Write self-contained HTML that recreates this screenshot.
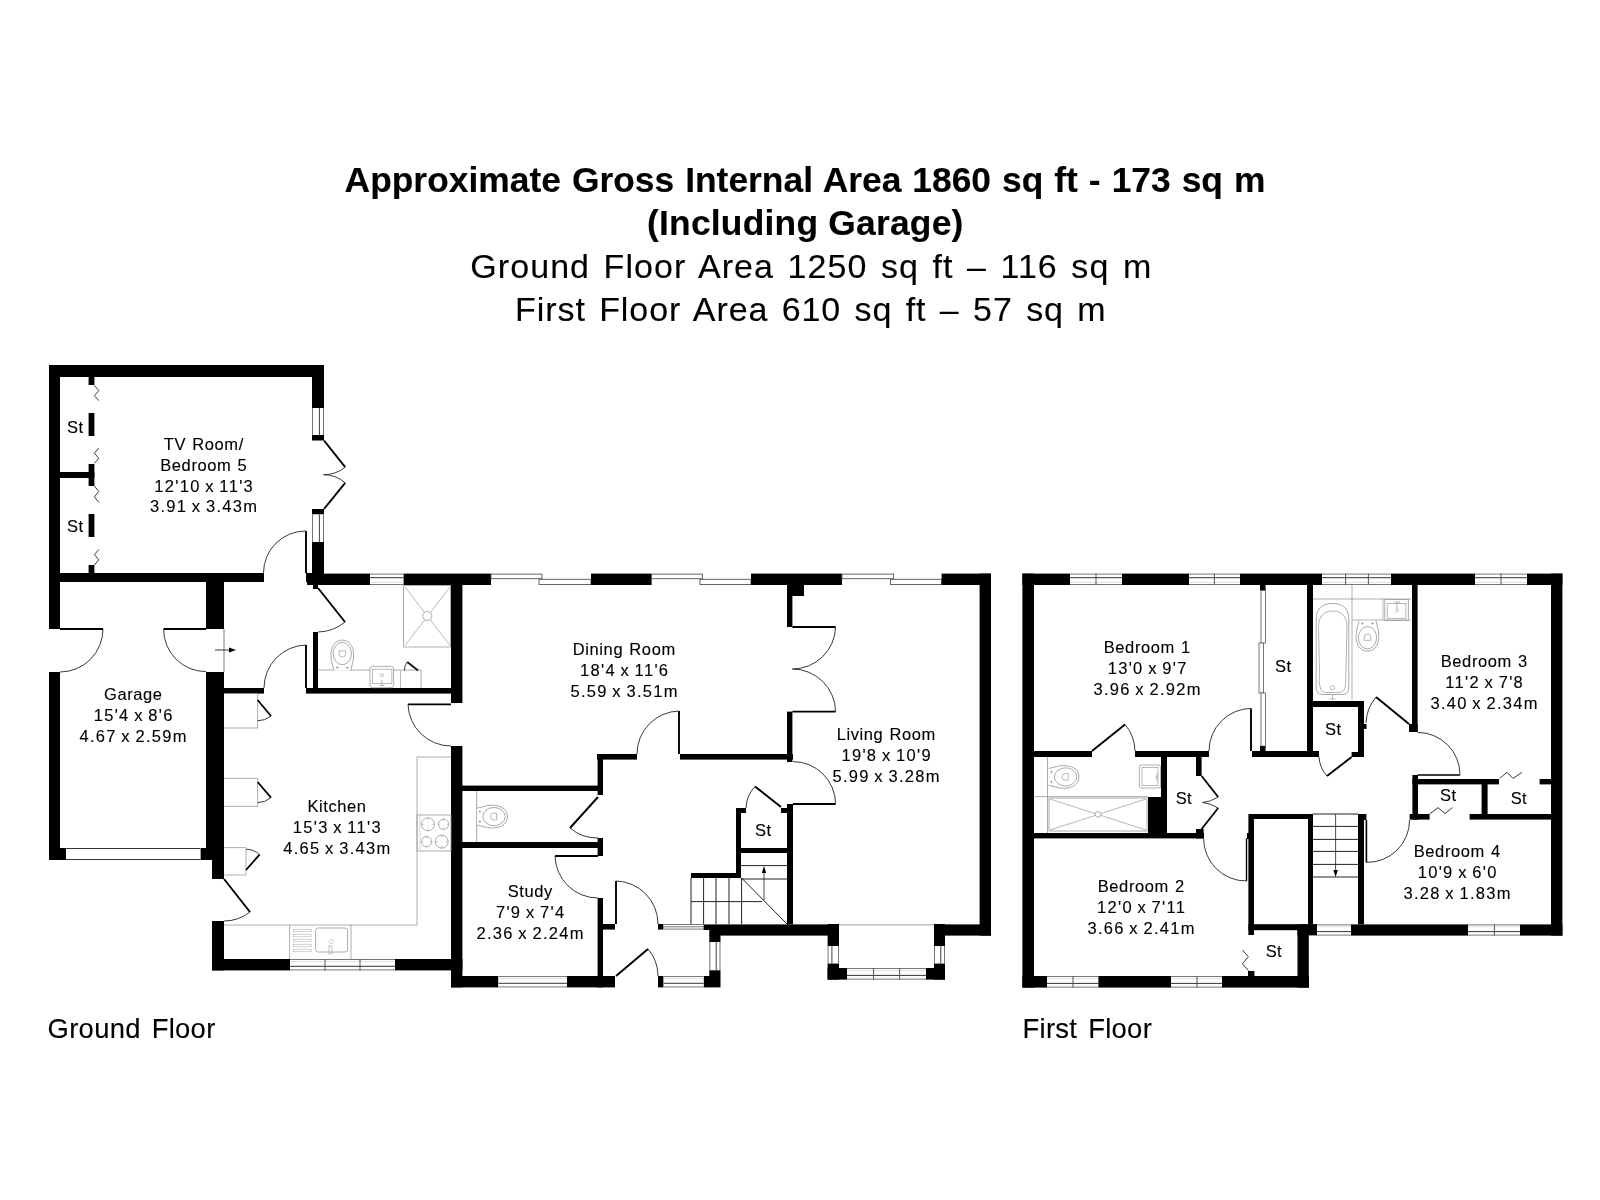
<!DOCTYPE html>
<html><head><meta charset="utf-8"><style>
html,body{margin:0;padding:0;background:#fff;}
svg{display:block;filter:grayscale(1);}
</style></head><body>
<svg width="1600" height="1200" viewBox="0 0 1600 1200">
<rect width="1600" height="1200" fill="#fff"/>
<rect x="49.0" y="365.0" width="275.0" height="12.0" fill="#000"/>
<rect x="49.0" y="365.0" width="11.0" height="264.0" fill="#000"/>
<rect x="49.0" y="672.0" width="11.0" height="188.0" fill="#000"/>
<rect x="312.0" y="365.0" width="12.0" height="43.0" fill="#000"/>
<rect x="312.0" y="408.0" width="12.0" height="27.0" fill="#fff"/>
<line x1="312.5" y1="408.0" x2="312.5" y2="435.0" stroke="#777" stroke-width="1"/>
<line x1="323.5" y1="408.0" x2="323.5" y2="435.0" stroke="#777" stroke-width="1"/>
<line x1="319.4" y1="408.0" x2="319.4" y2="435.0" stroke="#444" stroke-width="1"/>
<rect x="312.0" y="435.0" width="12.0" height="5.5" fill="#000"/>
<rect x="312.0" y="509.0" width="12.0" height="5.5" fill="#000"/>
<rect x="312.0" y="514.5" width="12.0" height="27.5" fill="#fff"/>
<line x1="312.5" y1="514.5" x2="312.5" y2="542.0" stroke="#777" stroke-width="1"/>
<line x1="323.5" y1="514.5" x2="323.5" y2="542.0" stroke="#777" stroke-width="1"/>
<line x1="319.4" y1="514.5" x2="319.4" y2="542.0" stroke="#444" stroke-width="1"/>
<rect x="312.0" y="542.0" width="12.0" height="40.0" fill="#000"/>
<rect x="306.0" y="573.0" width="18.0" height="9.0" fill="#000"/>
<rect x="313.0" y="573.0" width="5.0" height="16.0" fill="#000"/>
<rect x="60.0" y="573.0" width="204.0" height="9.0" fill="#000"/>
<line x1="324.0" y1="440.5" x2="345.2" y2="467.2" stroke="#000" stroke-width="1.9"/>
<path d="M345.2,467.2 A34.1,34.1 0 0 1 323.5,474.7" stroke="#222" stroke-width="0.9" fill="none"/>
<line x1="324.0" y1="509.0" x2="345.2" y2="482.8" stroke="#000" stroke-width="1.9"/>
<path d="M345.2,482.8 A33.7,33.7 0 0 0 323.5,474.7" stroke="#222" stroke-width="0.9" fill="none"/>
<line x1="306.0" y1="573.0" x2="306.0" y2="531.0" stroke="#000" stroke-width="1.9"/>
<path d="M306.0,531.0 A42.0,42.0 0 0 0 263.5,573.0" stroke="#222" stroke-width="0.9" fill="none"/>
<rect x="60.0" y="472.0" width="34.4" height="6.0" fill="#000"/>
<rect x="88.6" y="377.0" width="5.8" height="8.0" fill="#000"/>
<rect x="88.6" y="413.0" width="5.8" height="23.0" fill="#000"/>
<rect x="88.6" y="464.0" width="5.8" height="22.0" fill="#000"/>
<rect x="88.6" y="514.0" width="5.8" height="23.0" fill="#000"/>
<rect x="88.6" y="565.0" width="5.8" height="8.0" fill="#000"/>
<polyline points="94.4,385.5 98.8,390.6 94.4,395.6 98.8,400.7" stroke="#222" stroke-width="0.9" fill="none"/>
<polyline points="94.4,463.3 98.8,458.3 94.4,453.2 98.8,448.2" stroke="#222" stroke-width="0.9" fill="none"/>
<polyline points="94.4,486.0 98.8,491.5 94.4,496.9 98.8,502.4" stroke="#222" stroke-width="0.9" fill="none"/>
<polyline points="94.4,565.0 98.8,559.8 94.4,554.7 98.8,549.5" stroke="#222" stroke-width="0.9" fill="none"/>
<rect x="206.0" y="582.0" width="18.0" height="47.0" fill="#000"/>
<rect x="206.0" y="672.0" width="18.0" height="176.0" fill="#000"/>
<rect x="212.0" y="848.0" width="12.0" height="31.0" fill="#000"/>
<rect x="212.0" y="921.0" width="12.0" height="49.4" fill="#000"/>
<rect x="49.0" y="848.0" width="17.0" height="12.0" fill="#000"/>
<rect x="200.4" y="848.0" width="11.6" height="12.0" fill="#000"/>
<rect x="66.0" y="848.0" width="134.4" height="12.0" fill="#fff"/>
<line x1="66.0" y1="848.5" x2="200.4" y2="848.5" stroke="#333" stroke-width="1"/>
<line x1="66.0" y1="859.5" x2="200.4" y2="859.5" stroke="#333" stroke-width="1"/>
<line x1="60.0" y1="629.0" x2="103.0" y2="629.0" stroke="#000" stroke-width="1.9"/>
<path d="M103.0,629.0 A43.0,43.0 0 0 1 60.0,672.0" stroke="#222" stroke-width="0.9" fill="none"/>
<line x1="206.0" y1="629.0" x2="163.6" y2="629.0" stroke="#000" stroke-width="1.9"/>
<path d="M163.6,629.0 A42.4,42.4 0 0 0 206.0,671.6" stroke="#222" stroke-width="0.9" fill="none"/>
<line x1="224.0" y1="629.0" x2="224.0" y2="672.0" stroke="#555" stroke-width="0.8"/>
<line x1="215.0" y1="650.0" x2="231.0" y2="650.0" stroke="#222" stroke-width="0.9"/>
<path d="M236,650 L229,647.6 L229,652.4 Z" fill="#000"/>
<rect x="307.0" y="573.6" width="63.0" height="11.4" fill="#000"/>
<rect x="370.0" y="573.6" width="33.6" height="11.4" fill="#fff"/>
<line x1="370.0" y1="574.1" x2="403.6" y2="574.1" stroke="#777" stroke-width="1"/>
<line x1="370.0" y1="584.5" x2="403.6" y2="584.5" stroke="#777" stroke-width="1"/>
<line x1="370.0" y1="577.7" x2="403.6" y2="577.7" stroke="#333" stroke-width="1"/>
<line x1="370.0" y1="582.5" x2="403.6" y2="582.5" stroke="#ccc" stroke-width="0.6"/>
<rect x="403.6" y="573.6" width="87.4" height="11.4" fill="#000"/>
<rect x="491.0" y="574.1" width="51.0" height="4.6" fill="#fff" stroke="#555" stroke-width="0.9"/>
<rect x="539.0" y="579.3" width="52.0" height="5.2" fill="#fff" stroke="#555" stroke-width="0.9"/>
<rect x="591.0" y="573.6" width="60.6" height="11.4" fill="#000"/>
<rect x="651.6" y="574.1" width="50.8" height="4.6" fill="#fff" stroke="#555" stroke-width="0.9"/>
<rect x="700.0" y="579.3" width="51.0" height="5.2" fill="#fff" stroke="#555" stroke-width="0.9"/>
<rect x="751.0" y="573.6" width="91.0" height="11.4" fill="#000"/>
<rect x="842.0" y="574.1" width="51.6" height="4.6" fill="#fff" stroke="#555" stroke-width="0.9"/>
<rect x="890.4" y="579.3" width="51.2" height="5.2" fill="#fff" stroke="#555" stroke-width="0.9"/>
<rect x="941.6" y="573.6" width="49.4" height="11.4" fill="#000"/>
<rect x="979.6" y="573.6" width="11.4" height="362.0" fill="#000"/>
<rect x="451.0" y="585.0" width="11.4" height="118.0" fill="#000"/>
<rect x="224.0" y="688.0" width="40.0" height="5.6" fill="#000"/>
<rect x="306.0" y="688.0" width="145.0" height="5.6" fill="#000"/>
<rect x="313.0" y="632.0" width="5.0" height="56.0" fill="#000"/>
<line x1="318.0" y1="588.0" x2="345.0" y2="622.0" stroke="#000" stroke-width="1.9"/>
<path d="M345.0,622.0 A43.4,43.4 0 0 1 318.0,632.0" stroke="#222" stroke-width="0.9" fill="none"/>
<line x1="306.0" y1="688.0" x2="306.0" y2="645.0" stroke="#000" stroke-width="1.9"/>
<path d="M306.0,645.0 A43.0,43.0 0 0 0 264.0,688.0" stroke="#222" stroke-width="0.9" fill="none"/>
<rect x="403.6" y="585.5" width="47" height="61.5" fill="none" stroke="#999" stroke-width="0.8"/>
<line x1="405.0" y1="587.0" x2="450.0" y2="645.5" stroke="#999" stroke-width="0.7"/>
<line x1="450.0" y1="587.0" x2="405.0" y2="645.5" stroke="#999" stroke-width="0.7"/>
<circle cx="427.3" cy="616" r="4.5" fill="#fff" stroke="#999" stroke-width="0.8"/>
<line x1="318.0" y1="670.0" x2="421.0" y2="670.0" stroke="#999" stroke-width="0.8"/>
<line x1="421.0" y1="670.0" x2="421.0" y2="688.0" stroke="#999" stroke-width="0.8"/>
<g transform="translate(342.3,653.5) rotate(0)" fill="none" stroke="#999" stroke-width="0.85"><path d="M-8.4,17 L-11,6.6 C-12.7,-5.4 -8.2,-13.4 0,-13.4 C8.2,-13.4 12.7,-5.4 11,6.6 L8.4,17" fill="#fff"/><ellipse cx="0" cy="0" rx="9.1" ry="11.2"/><path d="M-3.3,-2.6 L3.3,-2.6 L3.3,0.6 A3.3,3 0 0 1 -3.3,0.6 Z" stroke-width="0.7"/><circle cx="-5" cy="14.2" r="0.7" fill="#999"/><circle cx="5" cy="14.2" r="0.7" fill="#999"/></g>
<rect x="369.9" y="666.4" width="23.7" height="21.3" rx="2.5" fill="#fff" stroke="#999" stroke-width="0.8"/>
<rect x="372.3" y="669.2" width="19.6" height="14.4" fill="none" stroke="#999" stroke-width="0.7"/>
<rect x="380.2" y="674" width="3.4" height="2.5" rx="1" fill="none" stroke="#999" stroke-width="0.6"/>
<path d="M381.9,680 l0,5 M379.5,685.5 l4.8,0" stroke="#999" stroke-width="0.8" fill="none"/>
<line x1="418.0" y1="670.5" x2="407.3" y2="662.0" stroke="#111" stroke-width="1.8"/>
<path d="M407.3,662.0 A13.7,13.7 0 0 0 404.3,670.5" stroke="#222" stroke-width="0.9" fill="none"/>
<line x1="400.5" y1="670.5" x2="400.5" y2="688.0" stroke="#999" stroke-width="0.7"/>
<line x1="451.0" y1="704.4" x2="408.0" y2="704.4" stroke="#000" stroke-width="1.9"/>
<path d="M408.0,704.4 A43.0,43.0 0 0 0 451.0,746.0" stroke="#222" stroke-width="0.9" fill="none"/>
<rect x="451.0" y="746.0" width="11.4" height="241.4" fill="#000"/>
<rect x="212.0" y="959.0" width="78.0" height="11.4" fill="#000"/>
<rect x="290.0" y="959.0" width="105.0" height="11.4" fill="#fff"/>
<line x1="290.0" y1="959.5" x2="395.0" y2="959.5" stroke="#777" stroke-width="1"/>
<line x1="290.0" y1="969.9" x2="395.0" y2="969.9" stroke="#777" stroke-width="1"/>
<line x1="290.0" y1="966.3" x2="395.0" y2="966.3" stroke="#333" stroke-width="1"/>
<line x1="290.0" y1="961.5" x2="395.0" y2="961.5" stroke="#ccc" stroke-width="0.6"/>
<line x1="325.0" y1="959.0" x2="325.0" y2="970.4" stroke="#555" stroke-width="1"/>
<line x1="360.0" y1="959.0" x2="360.0" y2="970.4" stroke="#555" stroke-width="1"/>
<rect x="395.0" y="959.0" width="67.4" height="11.4" fill="#000"/>
<line x1="224.0" y1="879.0" x2="250.0" y2="912.0" stroke="#000" stroke-width="1.9"/>
<path d="M250.0,912.0 A42.0,42.0 0 0 1 224.0,921.0" stroke="#222" stroke-width="0.9" fill="none"/>
<line x1="224.0" y1="693.6" x2="257.6" y2="693.6" stroke="#999" stroke-width="0.8"/>
<line x1="224.0" y1="728.0" x2="257.6" y2="728.0" stroke="#999" stroke-width="0.8"/>
<line x1="257.6" y1="693.6" x2="257.6" y2="728.0" stroke="#999" stroke-width="0.8"/>
<line x1="257.6" y1="700.0" x2="271.0" y2="716.0" stroke="#000" stroke-width="1.8"/>
<path d="M271.0,716.0 A20.9,20.9 0 0 1 257.6,720.8" stroke="#222" stroke-width="0.9" fill="none"/>
<line x1="224.0" y1="778.4" x2="257.6" y2="778.4" stroke="#999" stroke-width="0.8"/>
<line x1="224.0" y1="806.4" x2="257.6" y2="806.4" stroke="#999" stroke-width="0.8"/>
<line x1="257.6" y1="778.4" x2="257.6" y2="806.4" stroke="#999" stroke-width="0.8"/>
<line x1="257.6" y1="782.0" x2="271.0" y2="797.6" stroke="#000" stroke-width="1.8"/>
<path d="M271.0,797.6 A20.6,20.6 0 0 1 257.6,802.6" stroke="#222" stroke-width="0.9" fill="none"/>
<line x1="224.0" y1="847.6" x2="246.0" y2="847.6" stroke="#999" stroke-width="0.8"/>
<line x1="224.0" y1="875.0" x2="246.0" y2="875.0" stroke="#999" stroke-width="0.8"/>
<line x1="246.0" y1="847.6" x2="246.0" y2="875.0" stroke="#999" stroke-width="0.8"/>
<line x1="246.0" y1="870.0" x2="259.6" y2="854.6" stroke="#000" stroke-width="1.8"/>
<path d="M259.6,854.6 A20.5,20.5 0 0 0 246.0,849.2" stroke="#222" stroke-width="0.9" fill="none"/>
<line x1="417.0" y1="757.0" x2="451.0" y2="757.0" stroke="#999" stroke-width="0.8"/>
<line x1="417.0" y1="757.0" x2="417.0" y2="925.0" stroke="#999" stroke-width="0.8"/>
<line x1="224.0" y1="925.0" x2="417.0" y2="925.0" stroke="#999" stroke-width="0.8"/>
<rect x="417" y="815" width="34" height="36" fill="none" stroke="#999" stroke-width="0.8"/>
<line x1="420.0" y1="815.0" x2="420.0" y2="851.0" stroke="#bbb" stroke-width="0.6"/>
<circle cx="428" cy="824.3" r="6.5" fill="none" stroke="#999" stroke-width="0.8"/>
<path d="M421.5,824.3 l2.275,0 M434.5,824.3 l-2.275,0 M428,817.8 l0,2.275 M428,830.8 l0,-2.275" stroke="#999" stroke-width="0.6" fill="none"/>
<circle cx="443.5" cy="824.3" r="5.2" fill="none" stroke="#999" stroke-width="0.8"/>
<path d="M438.3,824.3 l1.8199999999999998,0 M448.7,824.3 l-1.8199999999999998,0 M443.5,819.0999999999999 l0,1.8199999999999998 M443.5,829.5 l0,-1.8199999999999998" stroke="#999" stroke-width="0.6" fill="none"/>
<circle cx="426.6" cy="841.7" r="5.2" fill="none" stroke="#999" stroke-width="0.8"/>
<path d="M421.40000000000003,841.7 l1.8199999999999998,0 M431.8,841.7 l-1.8199999999999998,0 M426.6,836.5 l0,1.8199999999999998 M426.6,846.9000000000001 l0,-1.8199999999999998" stroke="#999" stroke-width="0.6" fill="none"/>
<circle cx="441.7" cy="841.7" r="6.5" fill="none" stroke="#999" stroke-width="0.8"/>
<path d="M435.2,841.7 l2.275,0 M448.2,841.7 l-2.275,0 M441.7,835.2 l0,2.275 M441.7,848.2 l0,-2.275" stroke="#999" stroke-width="0.6" fill="none"/>
<line x1="289.6" y1="925.0" x2="289.6" y2="959.0" stroke="#999" stroke-width="0.8"/>
<line x1="351.0" y1="925.0" x2="351.0" y2="959.0" stroke="#999" stroke-width="0.8"/>
<rect x="315.6" y="928" width="32" height="24" rx="2.5" fill="none" stroke="#999" stroke-width="0.8"/>
<rect x="293.3" y="929.2" width="17.8" height="2.6" fill="none" stroke="#aaa" stroke-width="0.55"/>
<rect x="293.3" y="934.2" width="17.8" height="2.6" fill="none" stroke="#aaa" stroke-width="0.55"/>
<rect x="293.3" y="939.2" width="17.8" height="2.6" fill="none" stroke="#aaa" stroke-width="0.55"/>
<rect x="293.3" y="944.2" width="17.8" height="2.6" fill="none" stroke="#aaa" stroke-width="0.55"/>
<rect x="293.3" y="949.2" width="17.8" height="2.6" fill="none" stroke="#aaa" stroke-width="0.55"/>
<rect x="329" y="946" width="3" height="8" fill="none" stroke="#999" stroke-width="0.6"/>
<path d="M331.5,939 l2.5,2.5 l-2.5,2.5 l-2.5,-2.5z" fill="none" stroke="#999" stroke-width="0.6"/>
<rect x="597.0" y="754.0" width="40.0" height="5.6" fill="#000"/>
<rect x="680.0" y="754.0" width="113.0" height="5.6" fill="#000"/>
<line x1="679.0" y1="754.0" x2="679.0" y2="711.0" stroke="#000" stroke-width="1.9"/>
<path d="M679.0,711.0 A43.0,43.0 0 0 0 637.0,754.0" stroke="#222" stroke-width="0.9" fill="none"/>
<rect x="787.0" y="585.0" width="5.4" height="42.0" fill="#000"/>
<rect x="787.0" y="585.0" width="17.0" height="11.0" fill="#000"/>
<line x1="792.4" y1="627.0" x2="835.6" y2="627.0" stroke="#000" stroke-width="1.9"/>
<path d="M835.6,627.0 A43.2,43.2 0 0 1 792.4,669.0" stroke="#222" stroke-width="0.9" fill="none"/>
<line x1="792.4" y1="711.6" x2="835.6" y2="711.6" stroke="#000" stroke-width="1.9"/>
<path d="M835.6,711.6 A43.2,43.2 0 0 0 792.4,669.0" stroke="#222" stroke-width="0.9" fill="none"/>
<rect x="787.0" y="711.6" width="5.4" height="50.4" fill="#000"/>
<rect x="787.0" y="804.0" width="6.0" height="120.4" fill="#000"/>
<line x1="793.0" y1="804.0" x2="835.6" y2="804.0" stroke="#000" stroke-width="1.9"/>
<path d="M835.6,804.0 A42.6,42.6 0 0 0 793.0,761.6" stroke="#222" stroke-width="0.9" fill="none"/>
<rect x="597.6" y="754.0" width="5.4" height="41.0" fill="#000"/>
<rect x="597.6" y="838.0" width="5.4" height="18.0" fill="#000"/>
<rect x="597.6" y="898.0" width="5.4" height="89.4" fill="#000"/>
<rect x="462.0" y="785.6" width="141.0" height="5.4" fill="#000"/>
<rect x="462.0" y="842.0" width="141.0" height="6.0" fill="#000"/>
<line x1="598.0" y1="797.0" x2="570.0" y2="828.0" stroke="#000" stroke-width="1.9"/>
<path d="M570.0,828.0 A41.8,41.8 0 0 0 598.0,838.0" stroke="#222" stroke-width="0.9" fill="none"/>
<line x1="598.0" y1="856.0" x2="555.0" y2="856.0" stroke="#000" stroke-width="1.9"/>
<path d="M555.0,856.0 A43.0,43.0 0 0 0 598.0,898.0" stroke="#222" stroke-width="0.9" fill="none"/>
<line x1="476.7" y1="791.0" x2="476.7" y2="842.0" stroke="#999" stroke-width="0.9"/>
<g transform="translate(494,816.6) rotate(90)" fill="none" stroke="#999" stroke-width="0.85"><path d="M-8.4,17 L-11,6.6 C-12.7,-5.4 -8.2,-13.4 0,-13.4 C8.2,-13.4 12.7,-5.4 11,6.6 L8.4,17" fill="#fff"/><ellipse cx="0" cy="0" rx="9.1" ry="11.2"/><path d="M-3.3,-2.6 L3.3,-2.6 L3.3,0.6 A3.3,3 0 0 1 -3.3,0.6 Z" stroke-width="0.7"/><circle cx="-5" cy="14.2" r="0.7" fill="#999"/><circle cx="5" cy="14.2" r="0.7" fill="#999"/></g>
<rect x="451.0" y="976.0" width="47.4" height="11.4" fill="#000"/>
<rect x="498.4" y="976.0" width="68.6" height="11.4" fill="#fff"/>
<line x1="498.4" y1="976.5" x2="567.0" y2="976.5" stroke="#777" stroke-width="1"/>
<line x1="498.4" y1="986.9" x2="567.0" y2="986.9" stroke="#777" stroke-width="1"/>
<line x1="498.4" y1="983.3" x2="567.0" y2="983.3" stroke="#333" stroke-width="1"/>
<line x1="498.4" y1="978.5" x2="567.0" y2="978.5" stroke="#ccc" stroke-width="0.6"/>
<rect x="567.0" y="976.0" width="48.0" height="11.4" fill="#000"/>
<rect x="603.0" y="924.0" width="12.0" height="5.6" fill="#000"/>
<line x1="616.0" y1="924.0" x2="616.0" y2="881.0" stroke="#000" stroke-width="1.9"/>
<path d="M616.0,881.0 A43.0,43.0 0 0 1 658.0,924.0" stroke="#222" stroke-width="0.9" fill="none"/>
<rect x="658.0" y="924.0" width="5.6" height="5.6" fill="#000"/>
<rect x="663.6" y="924.0" width="40.0" height="5.6" fill="#fff"/>
<line x1="663.6" y1="924.5" x2="703.6" y2="924.5" stroke="#777" stroke-width="1"/>
<line x1="663.6" y1="929.1" x2="703.6" y2="929.1" stroke="#777" stroke-width="1"/>
<line x1="663.6" y1="926.8" x2="703.6" y2="926.8" stroke="#777" stroke-width="1"/>
<rect x="703.6" y="924.4" width="135.4" height="5.6" fill="#000"/>
<rect x="709.3" y="929.0" width="129.7" height="6.6" fill="#000"/>
<rect x="709.3" y="935.0" width="11.2" height="7.0" fill="#000"/>
<rect x="709.3" y="942.0" width="11.2" height="28.3" fill="#fff"/>
<line x1="709.8" y1="942.0" x2="709.8" y2="970.3" stroke="#777" stroke-width="1"/>
<line x1="720.0" y1="942.0" x2="720.0" y2="970.3" stroke="#777" stroke-width="1"/>
<line x1="716.2" y1="942.0" x2="716.2" y2="970.3" stroke="#444" stroke-width="1"/>
<rect x="709.3" y="970.3" width="11.2" height="17.1" fill="#000"/>
<rect x="703.6" y="976.0" width="6.4" height="11.4" fill="#000"/>
<rect x="658.0" y="976.0" width="5.6" height="11.4" fill="#000"/>
<rect x="663.6" y="976.0" width="40.0" height="11.4" fill="#fff"/>
<line x1="663.6" y1="976.5" x2="703.6" y2="976.5" stroke="#777" stroke-width="1"/>
<line x1="663.6" y1="986.9" x2="703.6" y2="986.9" stroke="#777" stroke-width="1"/>
<line x1="663.6" y1="983.3" x2="703.6" y2="983.3" stroke="#333" stroke-width="1"/>
<line x1="663.6" y1="978.5" x2="703.6" y2="978.5" stroke="#ccc" stroke-width="0.6"/>
<line x1="616.0" y1="976.0" x2="648.0" y2="949.0" stroke="#000" stroke-width="1.9"/>
<path d="M648.0,949.0 A41.9,41.9 0 0 1 658.0,976.0" stroke="#222" stroke-width="0.9" fill="none"/>
<rect x="736.0" y="808.0" width="5.0" height="70.0" fill="#000"/>
<rect x="736.0" y="808.0" width="10.0" height="5.0" fill="#000"/>
<rect x="781.0" y="808.0" width="6.0" height="5.0" fill="#000"/>
<rect x="741.0" y="848.0" width="46.0" height="5.0" fill="#000"/>
<line x1="781.0" y1="807.0" x2="755.0" y2="786.4" stroke="#000" stroke-width="1.9"/>
<path d="M755.0,786.4 A33.2,33.2 0 0 0 746.0,808.0" stroke="#222" stroke-width="0.9" fill="none"/>
<rect x="691.0" y="873.0" width="50.0" height="5.0" fill="#000"/>
<line x1="691.0" y1="878.0" x2="691.0" y2="924.0" stroke="#222" stroke-width="1"/>
<line x1="703.6" y1="878.0" x2="703.6" y2="924.0" stroke="#222" stroke-width="1"/>
<line x1="716.0" y1="878.0" x2="716.0" y2="924.0" stroke="#222" stroke-width="1"/>
<line x1="729.0" y1="878.0" x2="729.0" y2="924.0" stroke="#222" stroke-width="1"/>
<line x1="741.6" y1="878.0" x2="741.6" y2="924.0" stroke="#222" stroke-width="1"/>
<line x1="691.0" y1="901.6" x2="762.0" y2="901.6" stroke="#222" stroke-width="1"/>
<line x1="741.0" y1="865.6" x2="787.0" y2="865.6" stroke="#222" stroke-width="1"/>
<line x1="741.0" y1="879.0" x2="787.0" y2="879.0" stroke="#222" stroke-width="1"/>
<line x1="741.6" y1="878.0" x2="787.0" y2="924.0" stroke="#222" stroke-width="1"/>
<line x1="764.0" y1="900.0" x2="764.0" y2="870.0" stroke="#222" stroke-width="0.8"/>
<path d="M764,866 L761.8,873 L766.2,873 Z" fill="#000"/>
<line x1="839.0" y1="924.9" x2="934.0" y2="924.9" stroke="#888" stroke-width="0.8"/>
<rect x="827.6" y="924.0" width="11.4" height="22.0" fill="#000"/>
<rect x="827.6" y="946.0" width="11.4" height="17.6" fill="#fff"/>
<line x1="828.1" y1="946.0" x2="828.1" y2="963.6" stroke="#777" stroke-width="1"/>
<line x1="838.5" y1="946.0" x2="838.5" y2="963.6" stroke="#777" stroke-width="1"/>
<line x1="831.9" y1="946.0" x2="831.9" y2="963.6" stroke="#444" stroke-width="1"/>
<rect x="827.6" y="963.6" width="11.4" height="16.0" fill="#000"/>
<rect x="827.6" y="968.0" width="19.4" height="11.6" fill="#000"/>
<rect x="847.0" y="968.0" width="79.0" height="11.6" fill="#fff"/>
<line x1="847.0" y1="968.5" x2="926.0" y2="968.5" stroke="#777" stroke-width="1"/>
<line x1="847.0" y1="979.1" x2="926.0" y2="979.1" stroke="#777" stroke-width="1"/>
<line x1="847.0" y1="975.4" x2="926.0" y2="975.4" stroke="#333" stroke-width="1"/>
<line x1="847.0" y1="970.6" x2="926.0" y2="970.6" stroke="#ccc" stroke-width="0.6"/>
<line x1="873.6" y1="968.0" x2="873.6" y2="979.6" stroke="#555" stroke-width="1"/>
<line x1="899.6" y1="968.0" x2="899.6" y2="979.6" stroke="#555" stroke-width="1"/>
<rect x="926.0" y="968.0" width="19.0" height="11.6" fill="#000"/>
<rect x="934.0" y="924.4" width="57.0" height="11.2" fill="#000"/>
<rect x="934.0" y="924.0" width="11.0" height="22.0" fill="#000"/>
<rect x="934.0" y="946.0" width="11.0" height="17.6" fill="#fff"/>
<line x1="934.5" y1="946.0" x2="934.5" y2="963.6" stroke="#777" stroke-width="1"/>
<line x1="944.5" y1="946.0" x2="944.5" y2="963.6" stroke="#777" stroke-width="1"/>
<line x1="940.8" y1="946.0" x2="940.8" y2="963.6" stroke="#444" stroke-width="1"/>
<rect x="934.0" y="963.6" width="11.0" height="16.0" fill="#000"/>
<rect x="1022.4" y="573.6" width="11.6" height="414.0" fill="#000"/>
<rect x="1022.4" y="573.6" width="47.6" height="11.4" fill="#000"/>
<rect x="1070.0" y="573.6" width="52.0" height="11.4" fill="#fff"/>
<line x1="1070.0" y1="574.1" x2="1122.0" y2="574.1" stroke="#777" stroke-width="1"/>
<line x1="1070.0" y1="584.5" x2="1122.0" y2="584.5" stroke="#777" stroke-width="1"/>
<line x1="1070.0" y1="577.7" x2="1122.0" y2="577.7" stroke="#333" stroke-width="1"/>
<line x1="1070.0" y1="582.5" x2="1122.0" y2="582.5" stroke="#ccc" stroke-width="0.6"/>
<line x1="1096.0" y1="573.6" x2="1096.0" y2="585.0" stroke="#555" stroke-width="1"/>
<rect x="1122.0" y="573.6" width="67.0" height="11.4" fill="#000"/>
<rect x="1189.0" y="573.6" width="51.0" height="11.4" fill="#fff"/>
<line x1="1189.0" y1="574.1" x2="1240.0" y2="574.1" stroke="#777" stroke-width="1"/>
<line x1="1189.0" y1="584.5" x2="1240.0" y2="584.5" stroke="#777" stroke-width="1"/>
<line x1="1189.0" y1="577.7" x2="1240.0" y2="577.7" stroke="#333" stroke-width="1"/>
<line x1="1189.0" y1="582.5" x2="1240.0" y2="582.5" stroke="#ccc" stroke-width="0.6"/>
<line x1="1214.4" y1="573.6" x2="1214.4" y2="585.0" stroke="#555" stroke-width="1"/>
<rect x="1240.0" y="573.6" width="82.0" height="11.4" fill="#000"/>
<rect x="1322.0" y="573.6" width="69.0" height="11.4" fill="#fff"/>
<line x1="1322.0" y1="574.1" x2="1391.0" y2="574.1" stroke="#777" stroke-width="1"/>
<line x1="1322.0" y1="584.5" x2="1391.0" y2="584.5" stroke="#777" stroke-width="1"/>
<line x1="1322.0" y1="577.7" x2="1391.0" y2="577.7" stroke="#333" stroke-width="1"/>
<line x1="1322.0" y1="582.5" x2="1391.0" y2="582.5" stroke="#ccc" stroke-width="0.6"/>
<line x1="1345.6" y1="573.6" x2="1345.6" y2="585.0" stroke="#555" stroke-width="1"/>
<line x1="1368.4" y1="573.6" x2="1368.4" y2="585.0" stroke="#555" stroke-width="1"/>
<rect x="1391.0" y="573.6" width="84.0" height="11.4" fill="#000"/>
<rect x="1475.0" y="573.6" width="52.0" height="11.4" fill="#fff"/>
<line x1="1475.0" y1="574.1" x2="1527.0" y2="574.1" stroke="#777" stroke-width="1"/>
<line x1="1475.0" y1="584.5" x2="1527.0" y2="584.5" stroke="#777" stroke-width="1"/>
<line x1="1475.0" y1="577.7" x2="1527.0" y2="577.7" stroke="#333" stroke-width="1"/>
<line x1="1475.0" y1="582.5" x2="1527.0" y2="582.5" stroke="#ccc" stroke-width="0.6"/>
<line x1="1501.0" y1="573.6" x2="1501.0" y2="585.0" stroke="#555" stroke-width="1"/>
<rect x="1527.0" y="573.6" width="35.4" height="11.4" fill="#000"/>
<rect x="1551.0" y="573.6" width="11.4" height="362.0" fill="#000"/>
<rect x="1351.0" y="924.4" width="117.0" height="11.2" fill="#000"/>
<rect x="1468.0" y="924.4" width="52.0" height="11.2" fill="#fff"/>
<line x1="1468.0" y1="924.9" x2="1520.0" y2="924.9" stroke="#777" stroke-width="1"/>
<line x1="1468.0" y1="935.1" x2="1520.0" y2="935.1" stroke="#777" stroke-width="1"/>
<line x1="1468.0" y1="931.6" x2="1520.0" y2="931.6" stroke="#333" stroke-width="1"/>
<line x1="1468.0" y1="926.9" x2="1520.0" y2="926.9" stroke="#ccc" stroke-width="0.6"/>
<line x1="1494.4" y1="924.4" x2="1494.4" y2="935.6" stroke="#555" stroke-width="1"/>
<rect x="1520.0" y="924.4" width="42.4" height="11.2" fill="#000"/>
<rect x="1317.0" y="924.4" width="34.0" height="11.2" fill="#fff"/>
<line x1="1317.0" y1="924.9" x2="1351.0" y2="924.9" stroke="#777" stroke-width="1"/>
<line x1="1317.0" y1="935.1" x2="1351.0" y2="935.1" stroke="#777" stroke-width="1"/>
<line x1="1317.0" y1="931.6" x2="1351.0" y2="931.6" stroke="#333" stroke-width="1"/>
<line x1="1317.0" y1="926.9" x2="1351.0" y2="926.9" stroke="#ccc" stroke-width="0.6"/>
<rect x="1297.5" y="924.4" width="19.5" height="11.0" fill="#000"/>
<rect x="1297.5" y="930.0" width="11.3" height="57.6" fill="#000"/>
<rect x="1022.4" y="976.0" width="24.6" height="11.6" fill="#000"/>
<rect x="1047.0" y="976.0" width="51.4" height="11.6" fill="#fff"/>
<line x1="1047.0" y1="976.5" x2="1098.4" y2="976.5" stroke="#777" stroke-width="1"/>
<line x1="1047.0" y1="987.1" x2="1098.4" y2="987.1" stroke="#777" stroke-width="1"/>
<line x1="1047.0" y1="983.4" x2="1098.4" y2="983.4" stroke="#333" stroke-width="1"/>
<line x1="1047.0" y1="978.6" x2="1098.4" y2="978.6" stroke="#ccc" stroke-width="0.6"/>
<line x1="1073.0" y1="976.0" x2="1073.0" y2="987.6" stroke="#555" stroke-width="1"/>
<rect x="1098.4" y="976.0" width="72.6" height="11.6" fill="#000"/>
<rect x="1171.0" y="976.0" width="51.0" height="11.6" fill="#fff"/>
<line x1="1171.0" y1="976.5" x2="1222.0" y2="976.5" stroke="#777" stroke-width="1"/>
<line x1="1171.0" y1="987.1" x2="1222.0" y2="987.1" stroke="#777" stroke-width="1"/>
<line x1="1171.0" y1="983.4" x2="1222.0" y2="983.4" stroke="#333" stroke-width="1"/>
<line x1="1171.0" y1="978.6" x2="1222.0" y2="978.6" stroke="#ccc" stroke-width="0.6"/>
<line x1="1197.0" y1="976.0" x2="1197.0" y2="987.6" stroke="#555" stroke-width="1"/>
<rect x="1222.0" y="976.0" width="87.0" height="11.6" fill="#000"/>
<rect x="1034.0" y="751.0" width="58.0" height="6.0" fill="#000"/>
<rect x="1135.0" y="751.0" width="74.0" height="6.0" fill="#000"/>
<rect x="1252.0" y="751.0" width="67.0" height="6.0" fill="#000"/>
<line x1="1092.0" y1="751.0" x2="1125.0" y2="724.4" stroke="#000" stroke-width="1.9"/>
<path d="M1125.0,724.4 A42.4,42.4 0 0 1 1135.0,751.0" stroke="#222" stroke-width="0.9" fill="none"/>
<line x1="1251.0" y1="751.0" x2="1251.0" y2="708.4" stroke="#000" stroke-width="1.9"/>
<path d="M1251.0,708.4 A42.6,42.6 0 0 0 1209.0,751.0" stroke="#222" stroke-width="0.9" fill="none"/>
<rect x="1260.0" y="585.0" width="5.6" height="5.4" fill="#000"/>
<rect x="1260.0" y="746.0" width="5.6" height="6.0" fill="#000"/>
<rect x="1261" y="590.4" width="4.5" height="52.60000000000002" fill="#fff" stroke="#555" stroke-width="0.8"/>
<rect x="1259" y="643" width="4.5" height="50" fill="#fff" stroke="#555" stroke-width="0.8"/>
<rect x="1261" y="693" width="4.5" height="53" fill="#fff" stroke="#555" stroke-width="0.8"/>
<rect x="1307.0" y="585.0" width="6.0" height="172.0" fill="#000"/>
<rect x="1412.0" y="585.0" width="5.6" height="147.0" fill="#000"/>
<rect x="1409.0" y="724.0" width="8.6" height="8.0" fill="#000"/>
<line x1="1409.0" y1="724.0" x2="1376.0" y2="697.0" stroke="#000" stroke-width="1.9"/>
<path d="M1376.0,697.0 A42.6,42.6 0 0 0 1366.0,723.0" stroke="#222" stroke-width="0.9" fill="none"/>
<rect x="1313.0" y="701.0" width="51.0" height="6.0" fill="#000"/>
<rect x="1358.0" y="701.0" width="6.0" height="56.0" fill="#000"/>
<rect x="1351.6" y="752.0" width="12.4" height="5.0" fill="#000"/>
<rect x="1364.0" y="724.0" width="2.5" height="5.0" fill="#000"/>
<line x1="1351.6" y1="757.0" x2="1327.0" y2="776.0" stroke="#000" stroke-width="1.9"/>
<path d="M1327.0,776.0 A31.1,31.1 0 0 1 1319.0,757.0" stroke="#222" stroke-width="0.9" fill="none"/>
<line x1="1313.0" y1="599.0" x2="1411.0" y2="599.0" stroke="#999" stroke-width="0.8"/>
<line x1="1352.0" y1="585.0" x2="1352.0" y2="700.0" stroke="#999" stroke-width="0.8"/>
<line x1="1352.0" y1="620.0" x2="1411.0" y2="620.0" stroke="#999" stroke-width="0.8"/>
<line x1="1383.0" y1="599.0" x2="1383.0" y2="620.0" stroke="#999" stroke-width="0.7"/>
<path d="M1316.2,619 C1316.2,608 1323,603.4 1332.5,603.4 C1342,603.4 1348.8,608 1348.8,619 L1348.8,688 Q1348.8,694.5 1342,694.5 L1323,694.5 Q1316.2,694.5 1316.2,688 Z" fill="none" stroke="#999" stroke-width="0.85"/>
<path d="M1318.5,627 C1318.5,616 1324,611 1332.5,611 C1341,611 1347,616 1347,627 L1346,670 C1345,680 1347,684 1344,690 Q1343,692.5 1338,692.5 L1327,692.5 Q1321,692.5 1320.5,688 C1318,682 1320,676 1319.5,670 Z" fill="none" stroke="#999" stroke-width="0.75"/>
<circle cx="1332.5" cy="687.8" r="2.2" fill="none" stroke="#999" stroke-width="0.7"/>
<path d="M1332.5,695 l0,4 M1329.5,699 l6,0" stroke="#999" stroke-width="0.7" fill="none"/>
<g transform="translate(1367.5,637.7) rotate(180)" fill="none" stroke="#999" stroke-width="0.85"><path d="M-8.4,17 L-11,6.6 C-12.7,-5.4 -8.2,-13.4 0,-13.4 C8.2,-13.4 12.7,-5.4 11,6.6 L8.4,17" fill="#fff"/><ellipse cx="0" cy="0" rx="9.1" ry="11.2"/><path d="M-3.3,-2.6 L3.3,-2.6 L3.3,0.6 A3.3,3 0 0 1 -3.3,0.6 Z" stroke-width="0.7"/><circle cx="-5" cy="14.2" r="0.7" fill="#999"/><circle cx="5" cy="14.2" r="0.7" fill="#999"/></g>
<rect x="1384.8" y="599.6" width="23.5" height="21" fill="none" stroke="#999" stroke-width="0.8"/>
<rect x="1387.2" y="603.4" width="18.7" height="14.9" fill="none" stroke="#999" stroke-width="0.7"/>
<path d="M1394,602 l6,0 M1397,602 l0,7" stroke="#999" stroke-width="0.7" fill="none"/>
<circle cx="1397" cy="610.5" r="1.3" fill="none" stroke="#999" stroke-width="0.6"/>
<rect x="1161.0" y="757.0" width="6.0" height="40.0" fill="#000"/>
<rect x="1148.0" y="797.0" width="19.0" height="36.0" fill="#000"/>
<rect x="1034.0" y="833.0" width="170.0" height="5.4" fill="#000"/>
<line x1="1034.0" y1="796.6" x2="1148.0" y2="796.6" stroke="#999" stroke-width="0.8"/>
<rect x="1049" y="798" width="98" height="33" fill="none" stroke="#999" stroke-width="0.8"/>
<line x1="1050.0" y1="799.0" x2="1146.0" y2="830.0" stroke="#999" stroke-width="0.7"/>
<line x1="1146.0" y1="799.0" x2="1050.0" y2="830.0" stroke="#999" stroke-width="0.7"/>
<circle cx="1098" cy="814.4" r="2.8" fill="#fff" stroke="#999" stroke-width="0.8"/>
<line x1="1047.5" y1="757.0" x2="1047.5" y2="833.0" stroke="#999" stroke-width="0.8"/>
<g transform="translate(1065.6,776.9) rotate(90)" fill="none" stroke="#999" stroke-width="0.85"><path d="M-8.4,17 L-11,6.6 C-12.7,-5.4 -8.2,-13.4 0,-13.4 C8.2,-13.4 12.7,-5.4 11,6.6 L8.4,17" fill="#fff"/><ellipse cx="0" cy="0" rx="9.1" ry="11.2"/><path d="M-3.3,-2.6 L3.3,-2.6 L3.3,0.6 A3.3,3 0 0 1 -3.3,0.6 Z" stroke-width="0.7"/><circle cx="-5" cy="14.2" r="0.7" fill="#999"/><circle cx="5" cy="14.2" r="0.7" fill="#999"/></g>
<rect x="1139.4" y="765" width="21.2" height="23" rx="2" fill="none" stroke="#999" stroke-width="0.8"/>
<rect x="1142" y="767.5" width="16" height="18" fill="none" stroke="#999" stroke-width="0.7"/>
<path d="M1157,773 l0,8 M1155,777 l2,0" stroke="#999" stroke-width="0.7" fill="none"/>
<rect x="1196.0" y="757.0" width="5.6" height="19.0" fill="#000"/>
<rect x="1196.0" y="829.0" width="7.6" height="9.4" fill="#000"/>
<line x1="1201.6" y1="776.0" x2="1218.2" y2="797.0" stroke="#000" stroke-width="1.8"/>
<line x1="1218.2" y1="808.0" x2="1201.6" y2="829.0" stroke="#000" stroke-width="1.8"/>
<path d="M1218.2,797 Q1210,802 1202.5,802.5 Q1210,803 1218.2,808" fill="none" stroke="#222" stroke-width="0.9"/>
<rect x="1249.0" y="814.0" width="64.0" height="5.0" fill="#000"/>
<rect x="1248.4" y="814.0" width="5.6" height="121.0" fill="#000"/>
<rect x="1247.0" y="833.0" width="7.0" height="6.0" fill="#000"/>
<rect x="1308.0" y="814.0" width="5.0" height="110.4" fill="#000"/>
<rect x="1248.4" y="924.2" width="68.6" height="6.0" fill="#000"/>
<line x1="1246.5" y1="838.4" x2="1246.5" y2="881.0" stroke="#000" stroke-width="1.4"/>
<path d="M1246.5,881.0 A42.6,42.6 0 0 1 1203.6,838.4" stroke="#222" stroke-width="0.9" fill="none"/>
<rect x="1248.0" y="971.0" width="6.4" height="5.0" fill="#000"/>
<polyline points="1248.4,970.5 1242.4,963.7 1248.4,956.8 1242.4,950.0" stroke="#222" stroke-width="0.9" fill="none"/>
<line x1="1313.0" y1="814.0" x2="1358.0" y2="814.0" stroke="#222" stroke-width="1"/>
<line x1="1313.0" y1="826.4" x2="1358.0" y2="826.4" stroke="#222" stroke-width="1"/>
<line x1="1313.0" y1="839.4" x2="1358.0" y2="839.4" stroke="#222" stroke-width="1"/>
<line x1="1313.0" y1="851.4" x2="1358.0" y2="851.4" stroke="#222" stroke-width="1"/>
<line x1="1313.0" y1="864.4" x2="1358.0" y2="864.4" stroke="#222" stroke-width="1"/>
<line x1="1313.0" y1="877.0" x2="1358.0" y2="877.0" stroke="#222" stroke-width="1"/>
<line x1="1335.6" y1="814.0" x2="1335.6" y2="872.0" stroke="#222" stroke-width="0.8"/>
<path d="M1335.6,877 L1333.4,870 L1337.8,870 Z" fill="#000"/>
<rect x="1358.0" y="814.0" width="6.0" height="110.4" fill="#000"/>
<rect x="1358.0" y="814.0" width="8.4" height="6.0" fill="#000"/>
<line x1="1366.4" y1="820.0" x2="1366.4" y2="862.4" stroke="#000" stroke-width="1.6"/>
<path d="M1366.4,862.4 A42.4,42.4 0 0 0 1409.6,820.0" stroke="#222" stroke-width="0.9" fill="none"/>
<rect x="1412.4" y="779.0" width="86.6" height="5.4" fill="#000"/>
<rect x="1412.4" y="775.0" width="5.6" height="44.6" fill="#000"/>
<rect x="1409.6" y="814.0" width="20.0" height="5.6" fill="#000"/>
<rect x="1469.6" y="814.0" width="81.4" height="5.6" fill="#000"/>
<rect x="1481.6" y="784.0" width="6.0" height="30.0" fill="#000"/>
<rect x="1539.6" y="779.0" width="11.4" height="5.4" fill="#000"/>
<line x1="1417.6" y1="775.0" x2="1460.0" y2="775.0" stroke="#000" stroke-width="1.6"/>
<path d="M1460.0,775.0 A42.4,42.4 0 0 0 1417.6,732.4" stroke="#222" stroke-width="0.9" fill="none"/>
<polyline points="1429.6,814.0 1438.0,807.6 1445.0,813.6 1452.4,807.6" stroke="#222" stroke-width="0.9" fill="none"/>
<polyline points="1499.6,778.4 1507.0,772.4 1513.0,778.4 1522.0,772.4" stroke="#222" stroke-width="0.9" fill="none"/>
<g font-family="Liberation Sans, sans-serif" fill="#000" stroke="#000" stroke-width="0.12">
<text x="805.0" y="191.6" font-size="35.4" text-anchor="middle" font-weight="bold" letter-spacing="0" word-spacing="1.15" >Approximate Gross Internal Area 1860 sq ft - 173 sq m</text>
<text x="805.3" y="235.0" font-size="35.4" text-anchor="middle" font-weight="bold" letter-spacing="0.22" word-spacing="0" >(Including Garage)</text>
<text x="811.3" y="278.0" font-size="34" text-anchor="middle" font-weight="normal" letter-spacing="1.06" word-spacing="3" >Ground Floor Area 1250 sq ft – 116 sq m</text>
<text x="810.8" y="321.0" font-size="34" text-anchor="middle" font-weight="normal" letter-spacing="0.93" word-spacing="3" >First Floor Area 610 sq ft – 57 sq m</text>
<text x="47.6" y="1038.0" font-size="27.4" text-anchor="start" font-weight="normal" letter-spacing="0.3" word-spacing="3" >Ground Floor</text>
<text x="1022.5" y="1038.0" font-size="27.4" text-anchor="start" font-weight="normal" letter-spacing="0.3" word-spacing="3" >First Floor</text>
<text x="203.8" y="450.0" font-size="16.5" text-anchor="middle" font-weight="normal" letter-spacing="0.6" word-spacing="1.0" >TV Room/</text>
<text x="203.8" y="470.8" font-size="16.5" text-anchor="middle" font-weight="normal" letter-spacing="0.6" word-spacing="1.0" >Bedroom 5</text>
<text x="204.2" y="491.6" font-size="16.5" text-anchor="middle" font-weight="normal" letter-spacing="1.32" word-spacing="-1.37" >12&#39;10 x 11&#39;3</text>
<text x="204.2" y="512.4" font-size="16.5" text-anchor="middle" font-weight="normal" letter-spacing="1.32" word-spacing="-1.37" >3.91 x 3.43m</text>
<text x="133.3" y="700.0" font-size="16.5" text-anchor="middle" font-weight="normal" letter-spacing="0.6" word-spacing="1.0" >Garage</text>
<text x="133.7" y="720.8" font-size="16.5" text-anchor="middle" font-weight="normal" letter-spacing="1.32" word-spacing="-1.37" >15&#39;4 x 8&#39;6</text>
<text x="133.7" y="741.6" font-size="16.5" text-anchor="middle" font-weight="normal" letter-spacing="1.32" word-spacing="-1.37" >4.67 x 2.59m</text>
<text x="337.0" y="812.0" font-size="16.5" text-anchor="middle" font-weight="normal" letter-spacing="0.6" word-spacing="1.0" >Kitchen</text>
<text x="337.4" y="832.8" font-size="16.5" text-anchor="middle" font-weight="normal" letter-spacing="1.32" word-spacing="-1.37" >15&#39;3 x 11&#39;3</text>
<text x="337.4" y="853.6" font-size="16.5" text-anchor="middle" font-weight="normal" letter-spacing="1.32" word-spacing="-1.37" >4.65 x 3.43m</text>
<text x="624.3" y="655.0" font-size="16.5" text-anchor="middle" font-weight="normal" letter-spacing="0.6" word-spacing="1.0" >Dining Room</text>
<text x="624.7" y="675.8" font-size="16.5" text-anchor="middle" font-weight="normal" letter-spacing="1.32" word-spacing="-1.37" >18&#39;4 x 11&#39;6</text>
<text x="624.7" y="696.6" font-size="16.5" text-anchor="middle" font-weight="normal" letter-spacing="1.32" word-spacing="-1.37" >5.59 x 3.51m</text>
<text x="886.3" y="740.0" font-size="16.5" text-anchor="middle" font-weight="normal" letter-spacing="0.6" word-spacing="1.0" >Living Room</text>
<text x="886.7" y="760.8" font-size="16.5" text-anchor="middle" font-weight="normal" letter-spacing="1.32" word-spacing="-1.37" >19&#39;8 x 10&#39;9</text>
<text x="886.7" y="781.6" font-size="16.5" text-anchor="middle" font-weight="normal" letter-spacing="1.32" word-spacing="-1.37" >5.99 x 3.28m</text>
<text x="530.3" y="897.0" font-size="16.5" text-anchor="middle" font-weight="normal" letter-spacing="0.6" word-spacing="1.0" >Study</text>
<text x="530.7" y="917.8" font-size="16.5" text-anchor="middle" font-weight="normal" letter-spacing="1.32" word-spacing="-1.37" >7&#39;9 x 7&#39;4</text>
<text x="530.7" y="938.6" font-size="16.5" text-anchor="middle" font-weight="normal" letter-spacing="1.32" word-spacing="-1.37" >2.36 x 2.24m</text>
<text x="1147.3" y="653.0" font-size="16.5" text-anchor="middle" font-weight="normal" letter-spacing="0.6" word-spacing="1.0" >Bedroom 1</text>
<text x="1147.7" y="673.8" font-size="16.5" text-anchor="middle" font-weight="normal" letter-spacing="1.32" word-spacing="-1.37" >13&#39;0 x 9&#39;7</text>
<text x="1147.7" y="694.6" font-size="16.5" text-anchor="middle" font-weight="normal" letter-spacing="1.32" word-spacing="-1.37" >3.96 x 2.92m</text>
<text x="1484.3" y="667.0" font-size="16.5" text-anchor="middle" font-weight="normal" letter-spacing="0.6" word-spacing="1.0" >Bedroom 3</text>
<text x="1484.7" y="687.8" font-size="16.5" text-anchor="middle" font-weight="normal" letter-spacing="1.32" word-spacing="-1.37" >11&#39;2 x 7&#39;8</text>
<text x="1484.7" y="708.6" font-size="16.5" text-anchor="middle" font-weight="normal" letter-spacing="1.32" word-spacing="-1.37" >3.40 x 2.34m</text>
<text x="1141.3" y="892.0" font-size="16.5" text-anchor="middle" font-weight="normal" letter-spacing="0.6" word-spacing="1.0" >Bedroom 2</text>
<text x="1141.7" y="912.8" font-size="16.5" text-anchor="middle" font-weight="normal" letter-spacing="1.32" word-spacing="-1.37" >12&#39;0 x 7&#39;11</text>
<text x="1141.7" y="933.6" font-size="16.5" text-anchor="middle" font-weight="normal" letter-spacing="1.32" word-spacing="-1.37" >3.66 x 2.41m</text>
<text x="1457.3" y="857.0" font-size="16.5" text-anchor="middle" font-weight="normal" letter-spacing="0.6" word-spacing="1.0" >Bedroom 4</text>
<text x="1457.7" y="877.8" font-size="16.5" text-anchor="middle" font-weight="normal" letter-spacing="1.32" word-spacing="-1.37" >10&#39;9 x 6&#39;0</text>
<text x="1457.7" y="898.6" font-size="16.5" text-anchor="middle" font-weight="normal" letter-spacing="1.32" word-spacing="-1.37" >3.28 x 1.83m</text>
<text x="75.2" y="433.0" font-size="16.5" text-anchor="middle" font-weight="normal" letter-spacing="0.33" word-spacing="5.3" >St</text>
<text x="75.2" y="532.4" font-size="16.5" text-anchor="middle" font-weight="normal" letter-spacing="0.33" word-spacing="5.3" >St</text>
<text x="763.2" y="835.6" font-size="16.5" text-anchor="middle" font-weight="normal" letter-spacing="0.33" word-spacing="5.3" >St</text>
<text x="1283.2" y="672.4" font-size="16.5" text-anchor="middle" font-weight="normal" letter-spacing="0.33" word-spacing="5.3" >St</text>
<text x="1333.2" y="735.0" font-size="16.5" text-anchor="middle" font-weight="normal" letter-spacing="0.33" word-spacing="5.3" >St</text>
<text x="1183.8" y="804.4" font-size="16.5" text-anchor="middle" font-weight="normal" letter-spacing="0.33" word-spacing="5.3" >St</text>
<text x="1273.8" y="957.0" font-size="16.5" text-anchor="middle" font-weight="normal" letter-spacing="0.33" word-spacing="5.3" >St</text>
<text x="1448.2" y="801.0" font-size="16.5" text-anchor="middle" font-weight="normal" letter-spacing="0.33" word-spacing="5.3" >St</text>
<text x="1518.8" y="803.6" font-size="16.5" text-anchor="middle" font-weight="normal" letter-spacing="0.33" word-spacing="5.3" >St</text>
</g>
</svg>
</body></html>
